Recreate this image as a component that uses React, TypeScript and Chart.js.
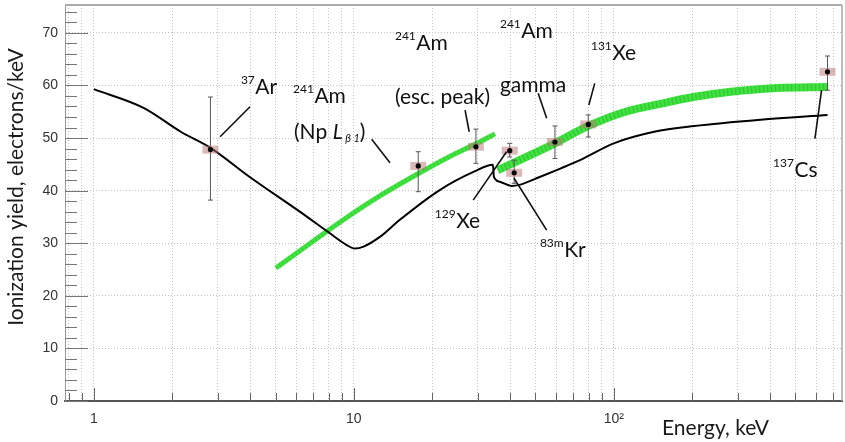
import React, { useEffect, useRef } from 'react';
import { Chart, registerables } from 'chart.js';

Chart.register(...registerables);

// ---------- data ----------
// model curve (black)
const modelEnergy = [1.0, 1.56, 2.16, 2.82, 3.98, 6.2, 8.09, 9.37, 10.1, 10.85, 12.6, 15.0, 21.4, 29.0, 34.3, 34.6, 36.4, 40.4, 43.4, 51.9, 62.3, 74.2, 100, 143, 204, 367, 664];
const modelYield = [59.3, 55.7, 51.2, 48.1, 42.6, 36.0, 31.9, 29.7, 29.0, 29.3, 31.2, 34.4, 40.1, 43.6, 44.9, 42.6, 41.7, 40.9, 41.1, 42.6, 44.2, 45.8, 49.0, 51.2, 52.3, 53.5, 54.4];

// fitted band (green), below and above the Xe K-edge
const fitLowEnergy = [5.02, 9.4, 12.6, 17.8, 23.4, 29.5, 34.9];
const fitLowYield = [25.3, 34.9, 39.0, 43.3, 46.5, 48.9, 50.8];
const fitHighEnergy = [35.8, 59.4, 79.8, 112.6, 150.7, 202, 272, 422, 662];
const fitHighYield = [43.9, 49.0, 52.3, 55.1, 56.5, 57.8, 58.7, 59.5, 59.7];

// measurements
const measEnergy = [2.81, 17.7, 29.5, 39.8, 41.4, 59.4, 79.8, 664];
const measYield = [47.8, 44.7, 48.35, 47.6, 43.4, 49.25, 52.6, 62.6];
const measErrLow = [38.2, 39.8, 45.2, 46.4, 41.4, 46.1, 50.2, 59.1];
const measErrHigh = [57.8, 47.4, 51.7, 49.0, 45.8, 52.3, 54.4, 65.6];

// axes
const xTickValues = [0.8, 0.9, 1, 2, 3, 4, 5, 6, 7, 8, 9, 10, 20, 30, 40, 50, 60, 70, 80, 90, 100, 200, 300, 400, 500, 600, 700];
const xLabelValues = [1, 10, 100];
const xLabelTexts = ['1', '10', '10²'];
const xMajorTicks = [1, 10, 100];
const yTickValues = [0, 10, 20, 30, 40, 50, 60, 70];
const yMinorTicks = [0, 2, 4, 6, 8, 10, 12, 14, 16, 18, 20, 22, 24, 26, 28, 30, 32, 34, 36, 38, 40, 42, 44, 46, 48, 50, 52, 54, 56, 58, 60, 62, 64, 66, 68, 70, 72, 74];

// isotope labels (superscript mass number + element), anchored at left/baseline in data coords
const isoSup = ['37', '241', '241', '241', '131', '137', '129', '83m'];
const isoMain = ['Ar', 'Am', 'Am', 'Am', 'Xe', 'Cs', 'Xe', 'Kr'];
const isoX = [3.68, 5.84, 14.4, 36.5, 81.7, 410, 20.5, 52.0];
const isoY = [58.4, 56.6, 66.7, 69.0, 64.8, 42.6, 32.9, 27.4];

// second-line notes
const noteText = ['(esc. peak)', 'gamma'];
const noteX = [14.4, 36.5];
const noteY = [56.5, 58.75];
const npNoteX = 5.89;
const npNoteY = 49.8;

// leader lines
const leadX1 = [3.99, 11.72, 26.8, 51.2, 84.5, 630, 28.8, 41.3];
const leadY1 = [55.95, 49.75, 55.3, 58.5, 60.4, 59.1, 38.2, 42.4];
const leadX2 = [3.06, 13.78, 27.8, 55.2, 80.2, 594, 38.7, 55.2];
const leadY2 = [50.25, 45.3, 51.2, 53.75, 56.3, 49.9, 47.4, 32.5];

const xTitle = 'Energy, keV';
const yTitle = 'Ionization yield, electrons/keV';

const LABEL_FONT = 'Lato, "Open Sans", sans-serif';
const TICK_FONT = '"Liberation Sans", Arial, sans-serif';

const toXY = (xs: number[], ys: number[]) => xs.map((v, i) => ({ x: v, y: ys[i] }));

const overlayPlugin = {
  id: 'overlay',
  afterDatasetsDraw(chart: any) {
    const { ctx, chartArea: a, scales } = chart;
    const xs = scales.x;
    const ys = scales.y;
    ctx.save();

    // frame: top and right borders
    ctx.strokeStyle = '#aaaaaa';
    ctx.lineWidth = 2;
    ctx.beginPath();
    ctx.moveTo(a.left, a.top);
    ctx.lineTo(a.right, a.top);
    ctx.stroke();
    ctx.lineWidth = 1.5;
    ctx.beginPath();
    ctx.moveTo(a.right, a.top);
    ctx.lineTo(a.right, a.bottom);
    ctx.stroke();

    // inner ticks on y axis
    ctx.strokeStyle = '#777777';
    ctx.lineWidth = 1;
    yMinorTicks.forEach((v) => {
      const py = Math.round(ys.getPixelForValue(v)) + 0.5;
      const len = v % 10 === 0 ? 23 : 12;
      ctx.beginPath();
      ctx.moveTo(a.left, py);
      ctx.lineTo(a.left + len, py);
      ctx.stroke();
    });
    // inner ticks on x axis
    ctx.strokeStyle = '#666666';
    xTickValues.forEach((v) => {
      const px = Math.round(xs.getPixelForValue(v)) + 0.5;
      const len = xMajorTicks.includes(v) ? 13 : 8;
      ctx.beginPath();
      ctx.moveTo(px, a.bottom);
      ctx.lineTo(px, a.bottom - len);
      ctx.stroke();
    });

    // measurement error bars
    ctx.strokeStyle = '#555555';
    ctx.lineWidth = 1;
    measEnergy.forEach((e, i) => {
      const px = xs.getPixelForValue(e);
      const y1 = ys.getPixelForValue(measErrHigh[i]);
      const y2 = ys.getPixelForValue(measErrLow[i]);
      ctx.beginPath();
      ctx.moveTo(px, y1);
      ctx.lineTo(px, y2);
      ctx.moveTo(px - 2.5, y1);
      ctx.lineTo(px + 2.5, y1);
      ctx.moveTo(px - 2.5, y2);
      ctx.lineTo(px + 2.5, y2);
      ctx.stroke();
    });
    // systematic boxes
    ctx.fillStyle = 'rgba(185, 115, 115, 0.5)';
    measEnergy.forEach((e, i) => {
      const px = xs.getPixelForValue(e);
      const py = ys.getPixelForValue(measYield[i]);
      ctx.fillRect(px - 8, py - 4, 16, 8);
    });
    // central values
    ctx.fillStyle = '#000000';
    measEnergy.forEach((e, i) => {
      const px = xs.getPixelForValue(e);
      const py = ys.getPixelForValue(measYield[i]);
      ctx.beginPath();
      ctx.arc(px, py, 2.6, 0, Math.PI * 2);
      ctx.fill();
    });

    // leader lines
    ctx.strokeStyle = '#111111';
    ctx.lineWidth = 1.6;
    leadX1.forEach((v, i) => {
      ctx.beginPath();
      ctx.moveTo(xs.getPixelForValue(v), ys.getPixelForValue(leadY1[i]));
      ctx.lineTo(xs.getPixelForValue(leadX2[i]), ys.getPixelForValue(leadY2[i]));
      ctx.stroke();
    });

    // isotope labels
    ctx.fillStyle = '#111111';
    ctx.textAlign = 'left';
    ctx.textBaseline = 'alphabetic';
    isoSup.forEach((s, i) => {
      const px = xs.getPixelForValue(isoX[i]);
      const py = ys.getPixelForValue(isoY[i]);
      ctx.font = `12px ${LABEL_FONT}`;
      ctx.fillText(s, px, py - 10);
      const w = ctx.measureText(s).width;
      ctx.font = `21px ${LABEL_FONT}`;
      ctx.fillText(isoMain[i], px + w + 0.5, py);
    });
    noteText.forEach((t, i) => {
      ctx.font = `21px ${LABEL_FONT}`;
      ctx.fillText(t, xs.getPixelForValue(noteX[i]), ys.getPixelForValue(noteY[i]));
    });
    // (Np L_β1)
    {
      let px = xs.getPixelForValue(npNoteX);
      const py = ys.getPixelForValue(npNoteY);
      const segs = [
        { t: '(Np ', f: `21px ${LABEL_FONT}`, dy: 0 },
        { t: 'L', f: `italic 21px ${LABEL_FONT}`, dy: 0 },
        { t: ' β 1', f: `italic 11px ${LABEL_FONT}`, dy: 3 },
        { t: ')', f: `21px ${LABEL_FONT}`, dy: 0 },
      ];
      segs.forEach((s) => {
        ctx.font = s.f;
        ctx.fillText(s.t, px, py + s.dy);
        px += ctx.measureText(s.t).width;
      });
    }

    // axis titles
    ctx.fillStyle = '#1a1a1a';
    ctx.font = `21px ${LABEL_FONT}`;
    ctx.textAlign = 'left';
    ctx.fillText(xTitle, a.right - 180, a.bottom + 34);
    ctx.save();
    ctx.translate(23, (a.top + a.bottom) / 2 - 16);
    ctx.rotate(-Math.PI / 2);
    ctx.textAlign = 'center';
    ctx.fillText(yTitle, 0, 0);
    ctx.restore();

    ctx.restore();
  },
};

export default function App() {
  const ref = useRef<HTMLCanvasElement | null>(null);

  useEffect(() => {
    if (!ref.current) return;
    // Chart.js draws the first dataset on top, so the list runs from top layer to bottom layer
    const chart = new Chart(ref.current, {
      type: 'line',
      data: {
        datasets: [
          {
            label: 'model',
            data: toXY(modelEnergy, modelYield),
            borderColor: '#000000',
            borderWidth: 2,
            pointRadius: 0,
            cubicInterpolationMode: 'monotone',
            fill: false,
          },
          {
            label: 'fit high texture',
            data: toXY(fitHighEnergy, fitHighYield),
            borderColor: 'rgba(30, 140, 30, 0.3)',
            borderWidth: 7,
            borderDash: [1.5, 2.5],
            pointRadius: 0,
            cubicInterpolationMode: 'monotone',
            fill: false,
          },
          {
            label: 'fit high',
            data: toXY(fitHighEnergy, fitHighYield),
            borderColor: '#40e440',
            borderWidth: 8,
            pointRadius: 0,
            cubicInterpolationMode: 'monotone',
            fill: false,
          },
          {
            label: 'fit low texture',
            data: toXY(fitLowEnergy, fitLowYield),
            borderColor: 'rgba(30, 140, 30, 0.2)',
            borderWidth: 4,
            borderDash: [1.5, 2.5],
            pointRadius: 0,
            cubicInterpolationMode: 'monotone',
            fill: false,
          },
          {
            label: 'fit low',
            data: toXY(fitLowEnergy, fitLowYield),
            borderColor: '#40e440',
            borderWidth: 5,
            pointRadius: 0,
            cubicInterpolationMode: 'monotone',
            fill: false,
          },
        ],
      },
      options: {
        animation: false,
        responsive: false,
        devicePixelRatio: 1,
        layout: { padding: { left: 0, right: 3, top: 5, bottom: 0 } },
        plugins: {
          legend: { display: false },
          tooltip: { enabled: false },
          title: { display: false },
        },
        scales: {
          x: {
            type: 'logarithmic',
            min: 0.775,
            max: 755,
            afterBuildTicks: (scale: any) => {
              scale.ticks = xTickValues.map((v) => ({ value: v }));
            },
            afterFit: (scale: any) => {
              scale.height = 41;
              scale.paddingLeft = 0;
              scale.paddingRight = 0;
            },
            ticks: {
              autoSkip: false,
              maxRotation: 0,
              padding: 10,
              color: '#333333',
              font: { family: TICK_FONT, size: 14 },
              callback: (value: any) => {
                const k = xLabelValues.indexOf(Number(value));
                return k >= 0 ? xLabelTexts[k] : '';
              },
            },
            grid: { color: '#c4c4c4', lineWidth: 1, drawTicks: false },
            border: { display: true, color: '#555555', width: 2, dash: [1, 2] },
          },
          y: {
            type: 'linear',
            min: 0,
            max: 75.3,
            afterBuildTicks: (scale: any) => {
              scale.ticks = yTickValues.map((v) => ({ value: v }));
            },
            afterFit: (scale: any) => {
              scale.width = 65;
              scale.paddingTop = 0;
              scale.paddingBottom = 0;
            },
            ticks: {
              padding: 7,
              color: '#333333',
              font: { family: TICK_FONT, size: 14 },
            },
            grid: { color: '#c4c4c4', lineWidth: 1, drawTicks: false },
            border: { display: true, color: '#999999', width: 1, dash: [1, 2] },
          },
        },
      },
      plugins: [overlayPlugin],
    } as any);
    return () => chart.destroy();
  }, []);

  return (
    <div style={{ position: 'fixed', left: 0, top: 0, width: 845, height: 442, background: '#ffffff' }}>
      <canvas ref={ref} width={845} height={442} style={{ width: 845, height: 442, display: 'block' }} />
    </div>
  );
}
